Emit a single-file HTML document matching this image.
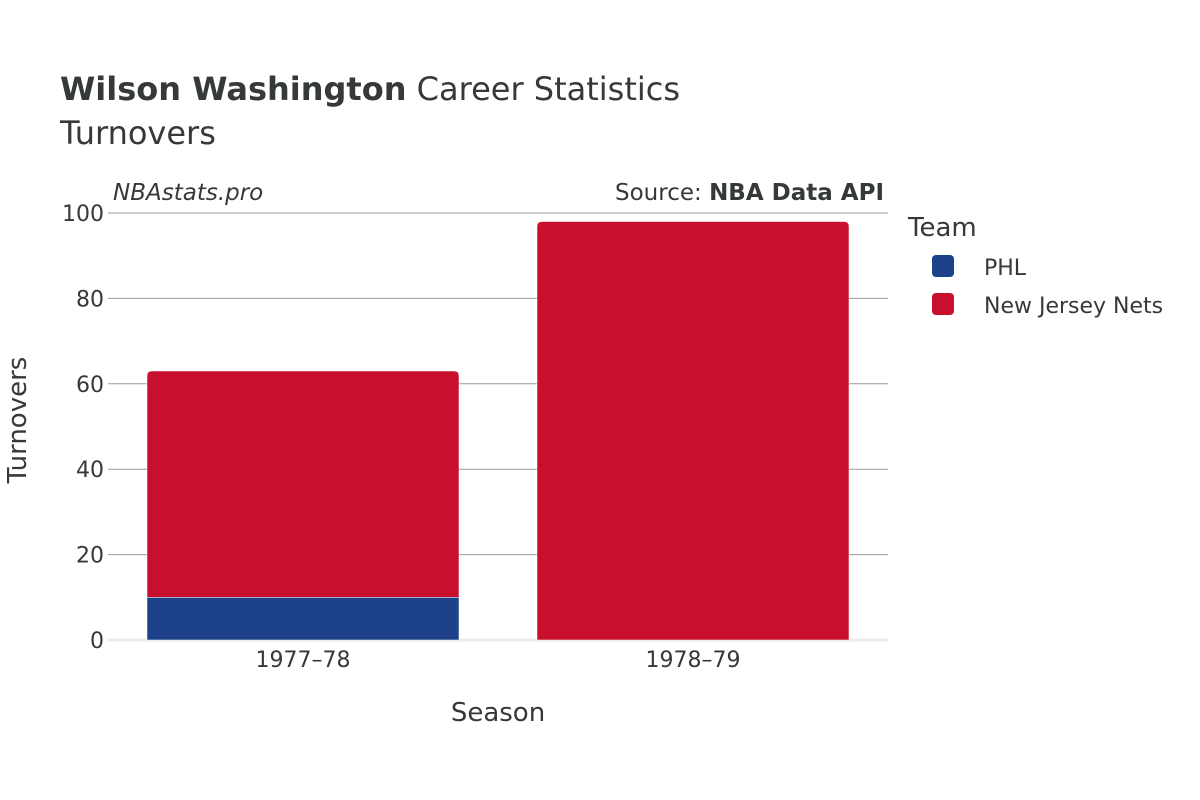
<!DOCTYPE html>
<html><head><meta charset="utf-8"><style>
body{margin:0;background:#fff;}
svg{display:block;font-family:"DejaVu Sans","Liberation Sans",sans-serif;}
</style></head><body>
<svg id="chart" width="1200" height="800" viewBox="0 0 1200 800">
<rect width="1200" height="800" fill="#fff"/>
<text x="60" y="100" font-size="32" fill="#363939"><tspan font-weight="bold">Wilson Washington</tspan> Career Statistics</text>
<text x="60" y="144" font-size="32" fill="#363939">Turnovers</text>
<text x="113" y="200" font-size="23" font-style="italic" fill="#363939">NBAstats.pro</text>
<text x="884" y="200" font-size="23" text-anchor="end" fill="#363939">Source: <tspan font-weight="bold">NBA Data API</tspan></text>
<g id="grid"></g>
<g id="bars"></g>
<g id="xlabels"></g>
<text x="498" y="721" font-size="26" text-anchor="middle" fill="#363939">Season</text>
<text transform="translate(26,420) rotate(-90)" font-size="26" text-anchor="middle" fill="#363939">Turnovers</text>
<text x="908" y="236" font-size="26" fill="#363939">Team</text>
<g><rect x="932" y="255" width="22" height="22" rx="4" fill="#1d428a"/><text x="984" y="275" font-size="22" fill="#363939">PHL</text></g>
<g><rect x="932" y="293" width="22" height="22" rx="4" fill="#c8102e"/><text x="984" y="313" font-size="22" fill="#363939">New Jersey Nets</text></g>
</svg>
<script>
const seasons=["1977–78","1978–79"];
const phl=[10,0];
const njn=[53,98];
const yTicks=[0,20,40,60,80,100];
const NS="http://www.w3.org/2000/svg";
const x0=108,x1=888,yTop=213,yBot=640,yMax=100;
const y=v=>yBot-(v/yMax)*(yBot-yTop);
const band=(x1-x0)/seasons.length;
const xc=i=>x0+band*(i+0.5);
const bw=band*0.8;
function mk(t,a,p){const e=document.createElementNS(NS,t);for(const k in a)e.setAttribute(k,a[k]);p.appendChild(e);return e;}
const grid=document.getElementById('grid');
yTicks.forEach(v=>{
  const l=mk('line',{x1:x0,x2:x1,y1:y(v),y2:y(v),stroke:v===0?'#ebebeb':'#999','stroke-width':v===0?3:1},grid);
  
  
  const t=mk('text',{x:104,y:y(v)+8,'font-size':22,'text-anchor':'end',fill:'#363939'},grid);
  t.textContent=v;
  
  
});
const bars=document.getElementById('bars');
function bar(xl,top,bot,color,rounded){
  const r=rounded?5:0,h=bot-top;
  if(h<=0)return null;
  const d=`M${xl},${bot} V${top+r} Q${xl},${top} ${xl+r},${top} H${xl+bw-r} Q${xl+bw},${top} ${xl+bw},${top+r} V${bot} Z`;
  return mk('path',{d,fill:color,stroke:'#fff','stroke-width':0.5},bars);
}
seasons.forEach((s,i)=>{
  const xl=xc(i)-bw/2;
  const b1=bar(xl,y(phl[i]),y(0),'#1d428a',njn[i]===0);
  if(b1){}
  const b2=bar(xl,y(phl[i]+njn[i]),y(phl[i]),'#c8102e',true);
  if(b2){}
  const t=mk('text',{x:xc(i),y:667,'font-size':22,'text-anchor':'middle',fill:'#363939'},document.getElementById('xlabels'));
  t.textContent=s;
  
  
});
</script>
</body></html>
